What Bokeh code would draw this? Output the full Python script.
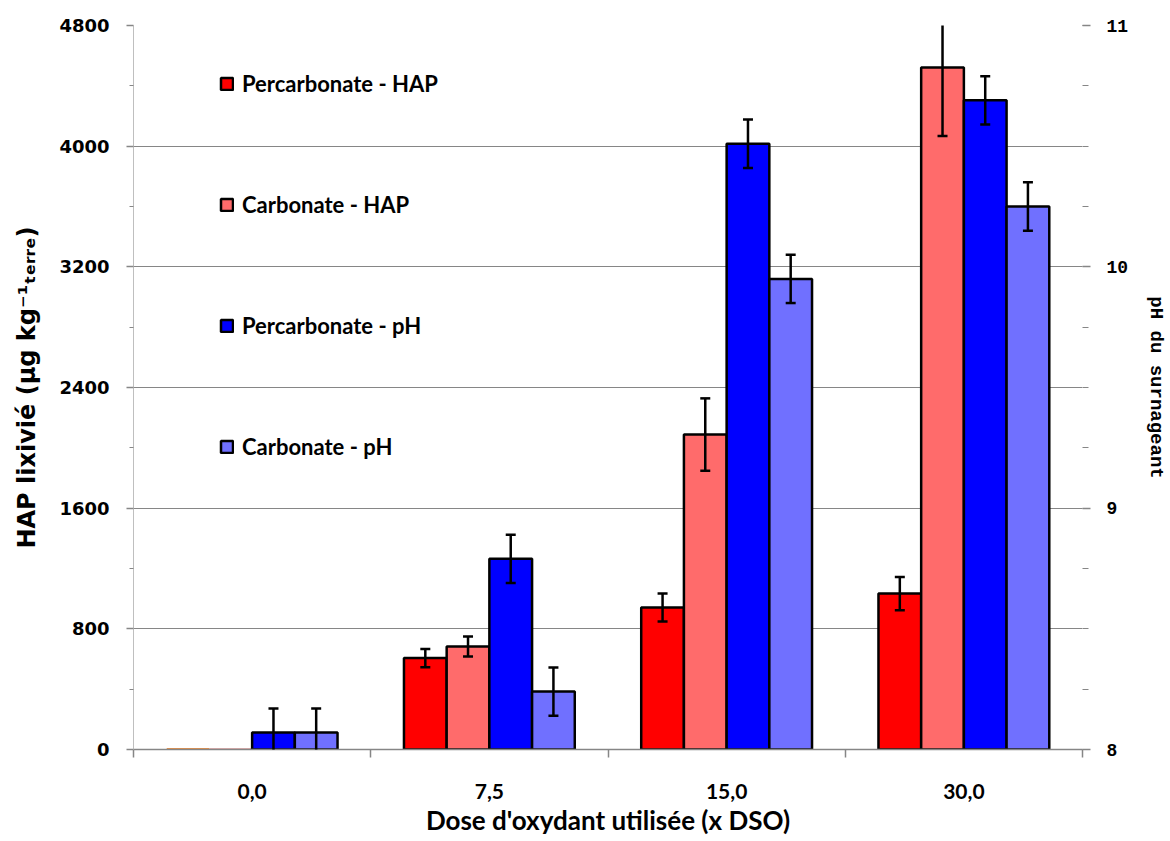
import numpy as np
from bokeh.plotting import figure
from bokeh.models import (Range1d, LinearAxis, FixedTicker, Whisker, TeeHead,
                          ColumnDataSource, Legend, LegendItem)
from bokeh.embed import file_html
from bokeh.resources import INLINE

# ---- data ----
doses = ["0,0", "7,5", "15,0", "30,0"]
hap_percarbonate = [0, 606, 941, 1034]
hap_percarbonate_err = [0, 60, 93, 110]
hap_carbonate = [0, 683, 2088, 4522]
hap_carbonate_err = [0, 66, 240, 455]
ph_percarbonate = [8.07, 8.79, 10.51, 10.69]
ph_percarbonate_err = [0.1, 0.1, 0.1, 0.1]
ph_carbonate = [8.07, 8.24, 9.95, 10.25]
ph_carbonate_err = [0.1, 0.1, 0.1, 0.1]
series_names = ["Percarbonate - HAP", "Carbonate - HAP", "Percarbonate - pH", "Carbonate - pH"]
hap_ticks = [0, 800, 1600, 2400, 3200, 4000, 4800]
ph_ticks = [8, 9, 10, 11]

# ---- styles ----
colors = ["#FF0000", "#FF6B6B", "#0000FF", "#7070FF"]
zero_line_colors = ["#E46C0A", "#D99594"]
offsets = [-0.27, -0.09, 0.09, 0.27]
bar_w = 0.18
grey = "#868686"
num_font = "DejaVu Sans"
txt_font = "Lato"
mono_font = "Liberation Mono"

centers = np.arange(len(doses)) + 0.5

p = figure(width=1170, height=841, x_range=Range1d(0, len(doses)),
           y_range=Range1d(hap_ticks[0], hap_ticks[-1]),
           output_backend="svg", toolbar_location=None,
           min_border_left=133, min_border_right=87, min_border_top=25,
           min_border_bottom=92, outline_line_color=None)
p.extra_y_ranges = {"ph": Range1d(ph_ticks[0], ph_ticks[-1])}

series = [
    (hap_percarbonate, hap_percarbonate_err, "default"),
    (hap_carbonate, hap_carbonate_err, "default"),
    (ph_percarbonate, ph_percarbonate_err, "ph"),
    (ph_carbonate, ph_carbonate_err, "ph"),
]

items = []
for i, (vals, errs, rng) in enumerate(series):
    base = hap_ticks[0] if rng == "default" else ph_ticks[0]
    xs = centers + offsets[i]
    lc = [("black" if v != base else (zero_line_colors[i] if i < 2 else "black")) for v in vals]
    src = ColumnDataSource(dict(x=xs, top=vals, lc=lc))
    r = p.vbar(x="x", top="top", bottom=base, width=bar_w, source=src,
               fill_color=colors[i], line_color="lc", line_width=2.5,
               y_range_name=rng)
    items.append(LegendItem(label=series_names[i], renderers=[r], index=1))
    keep = [k for k in range(len(vals)) if errs[k] > 0]
    wsrc = ColumnDataSource(dict(
        x=[xs[k] for k in keep],
        lower=[vals[k] - errs[k] for k in keep],
        upper=[vals[k] + errs[k] for k in keep]))
    w = Whisker(base="x", lower="lower", upper="upper", source=wsrc,
                y_range_name=rng, line_color="black", line_width=2.5,
                level="overlay",
                upper_head=TeeHead(size=10, line_width=2.5, line_color="black"),
                lower_head=TeeHead(size=10, line_width=2.5, line_color="black"))
    p.add_layout(w)

# ---- axes ----
xa = p.xaxis[0]
xa.ticker = FixedTicker(ticks=list(centers), minor_ticks=list(np.arange(len(doses) + 1)))
xa.major_label_overrides = {float(c): d for c, d in zip(centers, doses)}
xa.major_tick_line_color = None
xa.minor_tick_line_color = grey
xa.minor_tick_line_width = 1.5
xa.minor_tick_out = 8
xa.minor_tick_in = 0
xa.axis_line_color = grey
xa.axis_line_width = 1.5
xa.major_label_standoff = 26
xa.major_label_text_font = txt_font
xa.major_label_text_font_style = "bold"
xa.major_label_text_font_size = "21px"
xa.major_label_text_color = "black"
xa.axis_label = "Dose d'oxydant utilisée (x DSO)"
xa.axis_label_text_font = txt_font
xa.axis_label_text_font_style = "bold"
xa.axis_label_text_font_size = "26px"
xa.axis_label_text_color = "black"
xa.axis_label_standoff = 2

ya = p.yaxis[0]
hap_minor = [(a + b) / 2 for a, b in zip(hap_ticks[:-1], hap_ticks[1:])]
ya.ticker = FixedTicker(ticks=hap_ticks, minor_ticks=hap_minor)
ya.axis_line_color = "#BFBFBF"
ya.axis_line_width = 1
ya.major_tick_line_color = grey
ya.major_tick_line_width = 1.5
ya.major_tick_out = 7
ya.major_tick_in = 0
ya.minor_tick_line_color = grey
ya.minor_tick_line_width = 1
ya.minor_tick_out = 4
ya.minor_tick_in = 0
ya.major_label_standoff = 17
ya.major_label_text_font = num_font
ya.major_label_text_font_style = "bold"
ya.major_label_text_font_size = "18px"
ya.major_label_text_color = "black"
ya.axis_label = "HAP lixivié (µg kg⁻¹ₜₑᵣᵣₑ)"
ya.axis_label_text_font = num_font
ya.axis_label_text_font_style = "bold"
ya.axis_label_text_font_size = "24px"
ya.axis_label_text_color = "black"
ya.axis_label_standoff = 15

ph_minor = list(np.arange(ph_ticks[0], ph_ticks[-1] + 0.001, 0.25))
ra = LinearAxis(y_range_name="ph", ticker=FixedTicker(ticks=ph_ticks, minor_ticks=ph_minor))
ra.axis_line_color = None
ra.major_tick_line_color = grey
ra.major_tick_line_width = 1.5
ra.major_tick_out = 8
ra.major_tick_in = 0
ra.minor_tick_line_color = grey
ra.minor_tick_line_width = 1
ra.minor_tick_out = 6
ra.minor_tick_in = 0
ra.major_label_standoff = 16
ra.major_label_text_font = mono_font
ra.major_label_text_font_style = "bold"
ra.major_label_text_font_size = "18px"
ra.major_label_text_color = "black"
ra.axis_label = "pH du surnageant"
ra.axis_label_text_font = mono_font
ra.axis_label_text_font_style = "bold"
ra.axis_label_text_font_size = "19px"
ra.axis_label_text_color = "black"
ra.axis_label_standoff = 14
p.add_layout(ra, "right")

p.xgrid.visible = False
p.ygrid.ticker = FixedTicker(ticks=hap_ticks)
p.ygrid.grid_line_color = grey
p.ygrid.grid_line_width = 1

legend = Legend(items=items, location=(86, 289), orientation="vertical",
                padding=0, margin=0, spacing=94, border_line_color=None,
                background_fill_alpha=0, glyph_height=15, glyph_width=15,
                label_height=27, label_standoff=8,
                label_text_font=txt_font, label_text_font_size="22px",
                label_text_font_style="bold",
                label_text_color="black")
p.add_layout(legend)

open("out.html", "w").write(file_html(p, INLINE))
